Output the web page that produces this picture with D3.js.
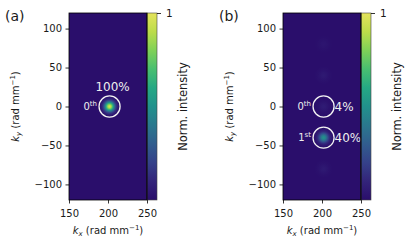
<!DOCTYPE html>
<html><head><meta charset="utf-8">
<script src="https://cdn.jsdelivr.net/npm/d3@7"></script>
<style>
html,body{margin:0;padding:0;background:#fff;}
svg{display:block;font-family:"DejaVu Sans",sans-serif;}
</style></head>
<body><svg id="c" width="416" height="243"></svg>
<script>
// ---- data ----
const panelLabels = ["(a)", "(b)"];
const kxTicks = [150, 200, 250];
const kyTicks = [-100, -50, 0, 50, 100];
const cbarTicks = [1];
// spots: kx, ky, normalized peak intensity
const spotsKxA = [202];
const spotsKyA = [0];
const spotsIA  = [0.95];
const spotsKxB = [202, 202, 202, 202, 202];
const spotsKyB = [80, 40, 0, -40, -80];
const spotsIB  = [0.03, 0.05, 0.06, 0.5, 0.05];
// annotated diffraction orders
const ringKxA = [202], ringKyA = [0];
const orderNumA = ["0"], orderSupA = ["th"], effA = ["100%"];
const ringKxB = [202, 202], ringKyB = [0, -40];
const orderNumB = ["0", "1"], orderSupB = ["th", "st"], effB = ["4%", "40%"];

// ---- colormap (viridis-like as rendered) ----
const cmStops = [0,0.1,0.2,0.3,0.4,0.5,0.6,0.7,0.8,0.9,1];
const cmCols = ["#2a0e6b","#33247a","#35418a","#315d8e","#2a788e","#21918c","#25a884","#48bf70","#7fd157","#bcdc4a","#e4e35c"];
const cmap = d3.scaleLinear().domain(cmStops).range(cmCols).interpolate(d3.interpolateRgb).clamp(true);

const svg = d3.select("#c");
const defs = svg.append("defs");

// colorbar gradient
const cg = defs.append("linearGradient").attr("id","cbg").attr("x1",0).attr("y1",1).attr("x2",0).attr("y2",0);
d3.range(0, 1.0001, 0.05).forEach(t => cg.append("stop").attr("offset", t).attr("stop-color", cmap(t)));

const TOP = 13, BOT = 200, LEFT = 69, RIGHT = 147, CBW = 10;
let gid = 0;

function panel(ox, label, sKx, sKy, sI, rKx, rKy, oNum, oSup, eff, effAbove) {
  const g = svg.append("g");
  const x = d3.scaleLinear().domain([150, 250]).range([ox + LEFT, ox + RIGHT]);
  const y = d3.scaleLinear().domain([-120, 120]).range([BOT, TOP]);
  const clipId = "clip" + ox;
  defs.append("clipPath").attr("id", clipId).append("rect")
    .attr("x", x(150)).attr("y", y(120)).attr("width", x(250) - x(150)).attr("height", y(-120) - y(120));
  const img = g.append("g").attr("clip-path", `url(#${clipId})`);
  img.append("rect").attr("x", x(150)).attr("y", y(120))
    .attr("width", x(250) - x(150)).attr("height", y(-120) - y(120)).attr("fill", cmap(0));
  const R = 10, sigma = 3.6;
  sKx.forEach((kx, i) => {
    const id = "sp" + (gid++);
    const rg = defs.append("radialGradient").attr("id", id);
    d3.range(0, 1.0001, 0.1).forEach(t => {
      const v = sI[i] * Math.exp(-(t * R) * (t * R) / (2 * sigma * sigma));
      rg.append("stop").attr("offset", t).attr("stop-color", cmap(v));
    });
    img.append("circle").attr("cx", x(kx)).attr("cy", y(sKy[i])).attr("r", R).attr("fill", `url(#${id})`);
  });
  // rings + annotations
  const ringR = 13.5;
  rKx.forEach((kx, i) => {
    const cx = x(kx), cy = y(rKy[i]);
    const rr = x(kx + ringR) - x(kx);
    g.append("circle").attr("cx", cx).attr("cy", cy).attr("r", rr)
      .attr("fill", "none").attr("stroke", "#f2f2f2").attr("stroke-width", 1.3);
    const t = g.append("text").attr("x", cx - rr - 2).attr("y", cy + 3).attr("text-anchor", "end")
      .attr("fill", "#eeeeee").attr("font-size", 10);
    t.append("tspan").text(oNum[i]);
    t.append("tspan").attr("dy", -4).attr("font-size", 7).text(oSup[i]);
    if (effAbove) {
      g.append("text").attr("x", cx + 3).attr("y", cy - rr - 4.5).attr("text-anchor", "middle")
        .attr("fill", "#eeeeee").attr("font-size", 12).text(eff[i]);
    } else {
      g.append("text").attr("x", cx + rr + 0.5).attr("y", cy + 4.3).attr("text-anchor", "start")
        .attr("fill", "#eeeeee").attr("font-size", 12).text(eff[i]);
    }
  });
  // spines
  g.append("rect").attr("x", x(150)).attr("y", y(120)).attr("width", x(250) - x(150)).attr("height", y(-120) - y(120))
    .attr("fill", "none").attr("stroke", "#000").attr("stroke-width", 0.8);
  // axes
  const ax = g.append("g").attr("transform", `translate(0,${BOT})`)
    .call(d3.axisBottom(x).tickValues(kxTicks).tickSize(3.5).tickPadding(3.5).tickSizeOuter(0));
  const ay = g.append("g").attr("transform", `translate(${x(150)},0)`)
    .call(d3.axisLeft(y).tickValues(kyTicks).tickSize(3.5).tickPadding(3.5).tickSizeOuter(0)
      .tickFormat(d => d < 0 ? "\u2212" + Math.abs(d) : d));
  [ax, ay].forEach(a => {
    a.select(".domain").remove();
    a.selectAll("text").attr("font-size", 10).attr("font-family", "DejaVu Sans").attr("fill", "#1a1a1a");
    a.selectAll("line").attr("stroke", "#000").attr("stroke-width", 0.8);
  });
  ax.selectAll("text").attr("dy", "0.95em");
  // colorbar
  const cx0 = x(250);
  g.append("rect").attr("x", cx0).attr("y", TOP).attr("width", CBW).attr("height", BOT - TOP)
    .attr("fill", "url(#cbg)").attr("stroke", "#444").attr("stroke-width", 0.6);
  g.append("line").attr("x1", cx0).attr("x2", cx0).attr("y1", TOP).attr("y2", BOT).attr("stroke", "#000").attr("stroke-width", 0.9);
  const cs = d3.scaleLinear().domain([0, 1]).range([BOT, TOP]);
  const ac = g.append("g").attr("transform", `translate(${cx0 + CBW},0)`)
    .call(d3.axisRight(cs).tickValues(cbarTicks).tickSize(4).tickPadding(5).tickSizeOuter(0).tickFormat(d3.format("d")));
  ac.select(".domain").remove();
  ac.selectAll("text").attr("font-size", 10.5).attr("font-family", "DejaVu Sans").attr("fill", "#1a1a1a");
  ac.selectAll("line").attr("stroke", "#000").attr("stroke-width", 0.8);
  // colorbar label
  g.append("text").attr("transform", `translate(${ox + 183},${(TOP + BOT) / 2}) rotate(-90)`)
    .attr("text-anchor", "middle").attr("dominant-baseline", "central")
    .attr("font-size", 11.5).attr("fill", "#1a1a1a").text("Norm. intensity");
  // x label
  const xl = g.append("text").attr("x", (x(150) + x(250)) / 2).attr("y", 233.5).attr("text-anchor", "middle")
    .attr("font-size", 10).attr("fill", "#1a1a1a");
  xl.append("tspan").attr("font-style", "italic").text("k");
  xl.append("tspan").attr("font-style", "italic").attr("font-size", 7).attr("dy", 2).text("x");
  xl.append("tspan").attr("dy", -2).text(" (rad mm");
  xl.append("tspan").attr("font-size", 7).attr("dy", -3.8).text("\u22121");
  xl.append("tspan").attr("dy", 3.8).text(")");
  // y label
  const yl = g.append("text").attr("transform", `translate(${ox + 19},${(TOP + BOT) / 2}) rotate(-90)`)
    .attr("text-anchor", "middle").attr("font-size", 10).attr("fill", "#1a1a1a");
  yl.append("tspan").attr("font-style", "italic").text("k");
  yl.append("tspan").attr("font-style", "italic").attr("font-size", 7).attr("dy", 2).text("y");
  yl.append("tspan").attr("dy", -2).text(" (rad mm");
  yl.append("tspan").attr("font-size", 7).attr("dy", -3.8).text("\u22121");
  yl.append("tspan").attr("dy", 3.8).text(")");
  // panel label
  g.append("text").attr("x", ox + 5).attr("y", 20.5).attr("font-size", 14).attr("fill", "#1a1a1a").text(label);
}

panel(0, panelLabels[0], spotsKxA, spotsKyA, spotsIA, ringKxA, ringKyA, orderNumA, orderSupA, effA, true);
panel(214, panelLabels[1], spotsKxB, spotsKyB, spotsIB, ringKxB, ringKyB, orderNumB, orderSupB, effB, false);
</script></body></html>
